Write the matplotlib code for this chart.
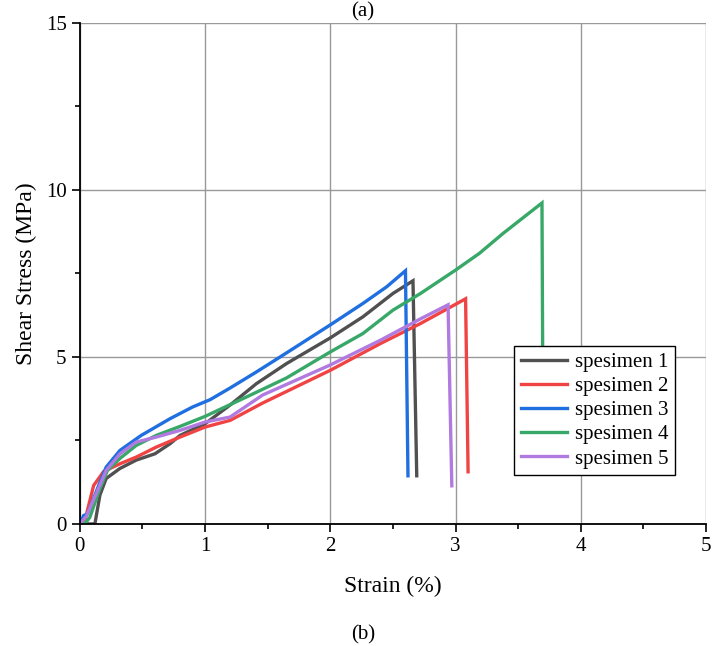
import matplotlib.pyplot as plt
from matplotlib.ticker import MultipleLocator

plt.rcParams['font.family'] = ['Liberation Serif', 'DejaVu Serif']

# data (strain %, shear stress MPa)
s1_x = [0.0, 0.12, 0.16, 0.21, 0.32, 0.45, 0.6, 0.72, 0.8, 1.0, 1.2, 1.41, 1.65, 2.0, 2.26, 2.5, 2.66, 2.69]
s1_y = [0.0, 0.0, 0.86, 1.36, 1.66, 1.91, 2.1, 2.4, 2.65, 3.0, 3.56, 4.2, 4.8, 5.57, 6.2, 6.9, 7.28, 1.44]

s2_x = [0.0, 0.04, 0.07, 0.11, 0.19, 0.32, 0.45, 0.61, 0.8, 1.0, 1.2, 1.46, 2.0, 2.4, 2.72, 3.08, 3.10]
s2_y = [0.0, 0.1, 0.55, 1.15, 1.57, 1.8, 2.0, 2.3, 2.6, 2.9, 3.1, 3.62, 4.6, 5.4, 6.0, 6.74, 1.56]

s3_x = [0.0, 0.03, 0.06, 0.09, 0.15, 0.21, 0.32, 0.49, 0.72, 0.9, 1.04, 1.2, 1.41, 1.65, 2.0, 2.26, 2.45, 2.6, 2.62]
s3_y = [0.0, 0.25, 0.3, 0.57, 1.15, 1.7, 2.2, 2.65, 3.15, 3.5, 3.72, 4.07, 4.55, 5.12, 5.96, 6.6, 7.1, 7.58, 1.44]

s4_x = [0.0, 0.05, 0.08, 0.16, 0.22, 0.32, 0.45, 0.61, 0.8, 1.0, 1.33, 1.65, 2.0, 2.26, 2.5, 2.72, 3.0, 3.19, 3.38, 3.69, 3.70]
s4_y = [0.0, 0.05, 0.2, 1.06, 1.6, 1.96, 2.35, 2.65, 2.92, 3.22, 3.8, 4.37, 5.15, 5.7, 6.4, 6.9, 7.6, 8.1, 8.7, 9.61, 1.5]

s5_x = [0.0, 0.05, 0.13, 0.21, 0.32, 0.45, 0.61, 0.8, 1.0, 1.2, 1.46, 2.0, 2.4, 2.72, 2.94, 2.97]
s5_y = [0.0, 0.22, 0.9, 1.6, 2.1, 2.45, 2.6, 2.8, 3.05, 3.2, 3.86, 4.76, 5.5, 6.14, 6.56, 1.14]

labels = ['spesimen 1', 'spesimen 2', 'spesimen 3', 'spesimen 4', 'spesimen 5']
colors = ['#505050', '#f04444', '#1f6fe0', '#38a868', '#b07ae0']

fig = plt.figure(figsize=(7.26, 6.46), dpi=100)
ax = fig.add_axes([0.110, 0.189, 0.8625, 0.7755])

series = [(s1_x, s1_y), (s2_x, s2_y), (s3_x, s3_y), (s4_x, s4_y), (s5_x, s5_y)]
for (xs, ys), lab, c in zip(series, labels, colors):
    ax.plot(xs, ys, color=c, lw=2.4, label=lab, solid_joinstyle='miter')

ax.set_xlim(0, 5)
ax.set_ylim(0, 15)
ax.xaxis.set_major_locator(MultipleLocator(1))
ax.xaxis.set_minor_locator(MultipleLocator(0.5))
ax.yaxis.set_major_locator(MultipleLocator(5))
ax.yaxis.set_minor_locator(MultipleLocator(2.5))
ax.grid(True, which='major', color='#999999', lw=1)
ax.set_axisbelow(True)
for sp in ['top', 'right']:
    ax.spines[sp].set_visible(False)
for sp in ['left', 'bottom']:
    ax.spines[sp].set_linewidth(1.3)
ax.tick_params(which='major', direction='out', length=6, width=1.2, labelsize=15)
ax.tick_params(which='minor', direction='out', length=3.5, width=1.2)

ax.set_xlabel('Strain (%)', fontsize=17, labelpad=14)
ax.set_ylabel('Shear Stress (MPa)', fontsize=17, labelpad=6)

leg = ax.legend(loc='upper left', bbox_to_anchor=(0.694, 0.355), fontsize=15,
                frameon=True, fancybox=False, edgecolor='black', framealpha=1,
                handlelength=2.2, borderpad=0.3, labelspacing=0.22, handletextpad=0.4,
                borderaxespad=0)
leg.get_frame().set_linewidth(1.0)
leg.set_zorder(5)

fig.text(0.5, 0.982, '(a)', ha='center', va='center', fontsize=15)
fig.text(0.5, 0.018, '(b)', ha='center', va='center', fontsize=15)

fig.savefig('out.png', dpi=100)
